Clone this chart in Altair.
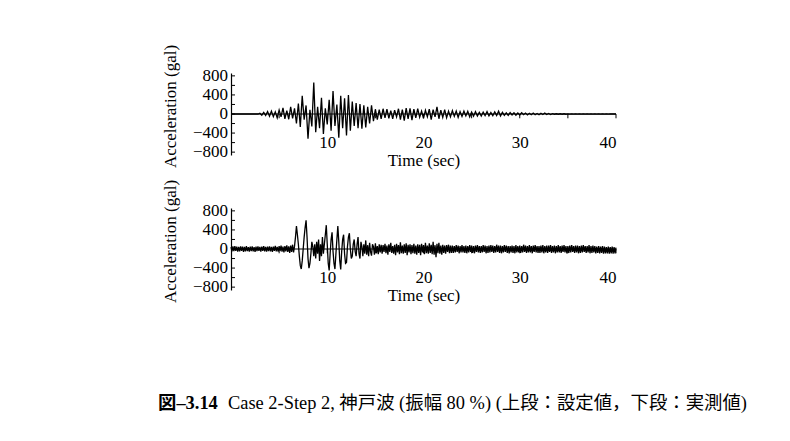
import altair as alt
import pandas as pd

FONT = "Liberation Serif, Noto Sans CJK JP"

# ---- data -------------------------------------------------------------
top_step = 0.2  # seconds between samples (上段: 設定値)
top_vals = [
    0, 0, 0, 0, 0, 0, 0, 0, 0, 0,
    0, 0, 0, 0, 0, 15, -25, 35, -30, 50,
    -45, 60, -55, 45, -80, 85, -60, 130, -100, 70,
    -110, 150, -90, 120, -200, 220, -270, 380, -120, 180,
    -520, 90, -260, 660, -380, 150, -300, 340, -420, 120,
    -220, 300, -350, 480, -250, 200, -500, 380, -300, 330,
    -450, 400, -350, 260, -250, 230, -300, 210, -310, 180,
    -280, 150, -200, 180, -150, 100, -120, 90, -100, 110,
    -80, 100, -90, 70, -100, 80, -60, 110, -120, 90,
    -140, 125, -100, 120, -130, 100, -80, 110, -70, 60,
    -90, 80, -60, 100, -120, 90, -60, 150, -100, 80,
    -70, 90, -80, 60, -60, 70, -50, 60, -70, 50,
    -50, 60, -40, 55, -60, 40, -45, 50, -40, 35,
    -45, 40, -35, 50, -40, 30, -35, 45, -30, 60,
    -40, 35, -30, 25, -30, 30, -20, 25, -25, 20,
    -20, 25, -15, 20, -20, 15, -15, 20, -15, 10,
    -15, 15, -10, 20, -10, 10, -10, 8, -5, 5,
    -5, 5, -5, 5, -5, 3, -3, 3, -3, 3,
    -3, 3, -2, 2, -2, 2, -2, 2, -2, 2,
    -2, 2, -2, 2, -1, 1, -1, 1, 0, 0,
    0,
]

bot_step = 0.1  # seconds between samples (下段: 実測値)
bot_vals = [
    40, -50, 55, -45, 60, -40, 50, -55, 45, -50,
    55, -40, 50, -60, 45, -50, 60, -45, 40, -55,
    50, -45, 55, -50, 40, -60, 50, -45, 55, -40,
    45, -55, 50, -40, 60, -50, 45, -55, 50, -45,
    55, -50, 45, -60, 50, -40, 65, -50, 45, -55,
    60, -45, 70, -55, 50, -70, 60, -50, 75, -60,
    55, -80, 70, -60, 90, -70, 60, 250, 480, 300,
    100, -150, -350, -420, -250, 0, 250, 450, 600, 250,
    -200, -400, -300, -100, 150, 50, -150, 100, -200, 150,
    -100, 200, -250, 100, -150, 250, -100, 100, 300, 500,
    100, -300, -450, -100, 200, 350, -50, -300, -420, -100,
    200, 480, 150, -250, -430, -50, 200, 300, -100, -300,
    -280, 50, 250, 330, 0, -200, -150, 100, 200, -50,
    -150, 100, 250, -100, -200, 150, 50, -150, 100, -100,
    180, -120, 80, -150, 130, -60, -140, 100, 50, -120,
    120, -90, 60, -110, 100, -70, 90, -100, 80, -60,
    110, -90, 70, -120, 100, -60, 130, -80, 60, -100,
    90, -130, 110, -70, 80, -110, 140, -90, 70, -100,
    100, -80, 120, -130, 90, -70, 100, -110, 80, -90,
    110, -100, 70, -120, 100, -80, 90, -130, 110, -70,
    80, -110, 130, -90, 70, -100, 120, -80, 90, -110,
    150, -120, 80, -170, 110, -90, 130, -100, 70, -120,
    90, -80, 70, -100, 80, -60, 90, -90, 70, -80,
    70, -80, 60, -70, 80, -60, 70, -90, 60, -70,
    80, -70, 60, -80, 70, -90, 60, -70, 80, -60,
    70, -80, 60, -90, 70, -60, 80, -70, 60, -80,
    60, -70, 80, -60, 70, -90, 60, -80, 70, -70,
    80, -60, 70, -80, 60, -70, 90, -60, 70, -80,
    70, -90, 60, -70, 80, -60, 70, -80, 60, -90,
    60, -70, 70, -80, 60, -90, 80, -70, 60, -70,
    70, -80, 60, -70, 90, -60, 70, -80, 60, -70,
    80, -70, 60, -90, 70, -60, 80, -70, 60, -80,
    60, -80, 70, -70, 80, -90, 60, -70, 70, -80,
    70, -60, 80, -80, 60, -70, 70, -90, 60, -70,
    80, -70, 60, -80, 70, -60, 80, -70, 60, -90,
    60, -80, 70, -70, 80, -60, 60, -80, 70, -70,
    70, -90, 60, -80, 70, -70, 80, -60, 60, -80,
    60, -70, 80, -90, 60, -80, 70, -70, 60, -90,
    50, -80, 60, -90, 50, -80, 60, -100, 50, -90,
    40, -90, 50, -100, 40, -90, 50, -100, 40, -90,
    30,
]

x_labels = [10, 20, 30, 40]
x_minor = [5, 10, 15, 20, 25, 30, 35, 40]
y_labels = [-800, -400, 0, 400, 800]
y_ticks = [-800, -600, -400, -200, 0, 200, 400, 600, 800]

caption_bold = "図–3.14"
caption_rest = "Case 2-Step 2, 神戸波 (振幅 80 %) (上段：設定値，下段：実測値)"

# ---- chart ------------------------------------------------------------
W, H = 385, 82
AX = dict(
    labelFont=FONT, labelFontSize=17, labelColor="black",
    titleFont=FONT, titleFontSize=17, titleColor="black", titleFontWeight="normal",
)


def panel(step, vals, extra=None):
    df = pd.DataFrame({"t": [round(i * step, 3) for i in range(len(vals))], "a": vals})
    x = alt.X(
        "t:Q",
        scale=alt.Scale(domain=[0, 40], nice=False, zero=False),
        axis=alt.Axis(
            values=x_labels, title="Time (sec)", domain=False, ticks=False, grid=False,
            labelPadding=2, offset=-23, titlePadding=2, **AX,
        ),
    )
    y = alt.Y(
        "a:Q",
        scale=alt.Scale(domain=[-860, 860], nice=False),
        axis=alt.Axis(
            values=y_labels, title="Acceleration (gal)", ticks=False, grid=False, labels=False,
            domainColor="black", domainWidth=1.2, titlePadding=52, titleY=33, **AX,
        ),
    )
    line = alt.Chart(df).mark_line(color="black", strokeWidth=1.3, strokeJoin="miter").encode(x=x, y=y)
    zero = alt.Chart(pd.DataFrame({"a": [0]})).mark_rule(color="black", strokeWidth=1).encode(y=y)
    yt = alt.Chart(pd.DataFrame({"a": y_ticks})).mark_rule(color="black", strokeWidth=1).encode(
        y=y, x=alt.value(0), x2=alt.value(4)
    )
    ylab = alt.Chart(pd.DataFrame({"a": y_labels})).mark_text(
        align="right", baseline="middle", font=FONT, fontSize=17, color="black"
    ).encode(y=y, x=alt.value(-3), text=alt.Text("a:Q", format="d"))
    xt = alt.Chart(pd.DataFrame({"t": x_minor})).mark_rule(color="black", strokeWidth=1).encode(
        x=x, y=alt.datum(0), y2=alt.datum(-90)
    )
    layers = [zero, line, yt, ylab, xt]
    if extra:
        layers += extra
    return alt.layer(*layers).properties(width=W, height=H)


cap1 = alt.Chart(pd.DataFrame({"c": [caption_bold]})).mark_text(
    align="left", baseline="middle", font=FONT, fontSize=18.4, fontWeight="bold", color="black"
).encode(text="c:N", x=alt.value(-73), y=alt.value(195))
cap2 = alt.Chart(pd.DataFrame({"c": [caption_rest]})).mark_text(
    align="left", baseline="middle", font=FONT, fontSize=18.4, color="black"
).encode(text="c:N", x=alt.value(-3), y=alt.value(195))

top = panel(top_step, top_vals)
bottom = panel(bot_step, bot_vals, [cap1, cap2])

chart = (
    alt.vconcat(top, bottom, spacing=53, bounds="flush")
    .properties(padding={"left": 150, "top": 36, "right": 10, "bottom": 10})
    .configure_view(stroke=None)
)

chart.save("out.html", embed_options={"renderer": "svg", "actions": False})
